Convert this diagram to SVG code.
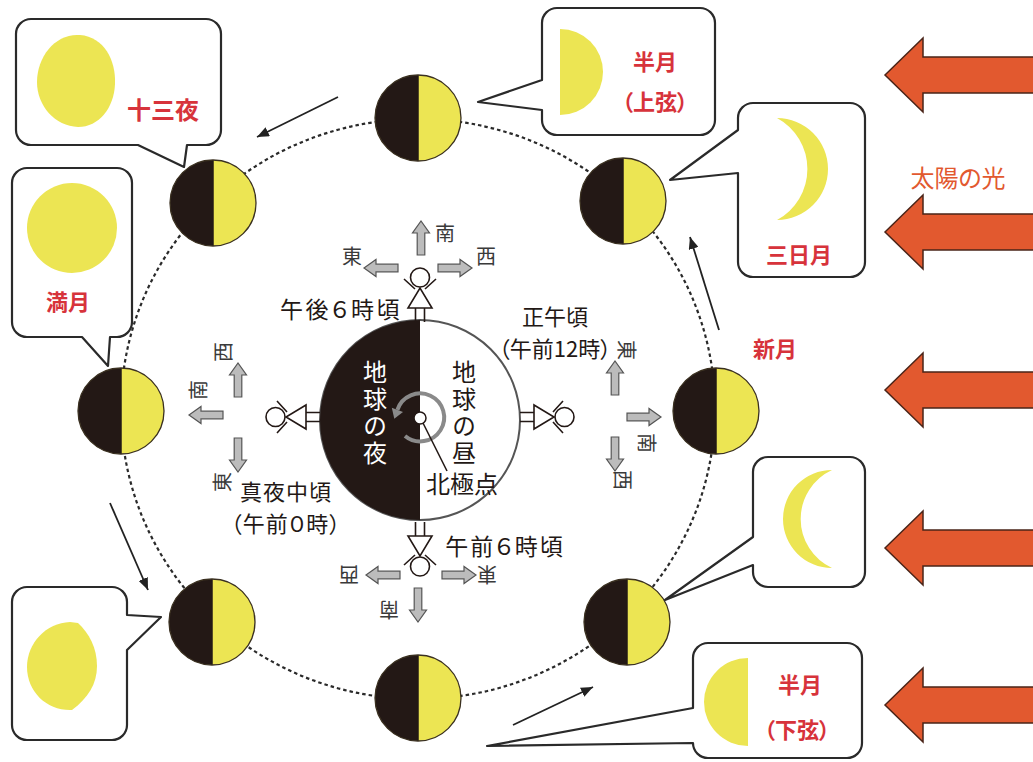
<svg xmlns="http://www.w3.org/2000/svg" width="1033" height="762" viewBox="0 0 1033 762">
<style>
text{font-family:"Noto Sans CJK JP","Noto Sans CJK SC",sans-serif;text-anchor:middle;dominant-baseline:central;font-feature-settings:"palt";}
.lbl{font-size:23px;fill:#231815;}
.two{font-size:22px;}
.dir{font-size:20px;fill:#3a3a3a;}
.red{font-size:22px;fill:#d7333b;font-weight:bold;}
.sun{font-size:24px;fill:#e2592f;}
.vert{writing-mode:vertical-rl;font-size:24px;letter-spacing:3px;}
.bubble{fill:#fff;stroke:#2a2a2a;stroke-width:2.2;stroke-linejoin:round;}
.lit{fill:#ece553;}
.dark{fill:#231815;}
.rim{fill:none;stroke:#3a3020;stroke-width:1.3;}
.orbit{fill:none;stroke:#2a2a2a;stroke-width:2.2;stroke-dasharray:3.5 3;}
.move{stroke:#222;stroke-width:1.8;marker-end:url(#ah);}
.ray{fill:#e2592f;stroke:#4a2418;stroke-width:1.5;}
.garrow{fill:#bcbcbc;stroke:#555;stroke-width:1.2;}
.fig{fill:#fff;stroke:#231815;stroke-width:1.6;}
</style>
<defs>
  <marker id="ah" viewBox="0 0 12 10" refX="12" refY="5" markerWidth="12" markerHeight="10" markerUnits="userSpaceOnUse" orient="auto">
    <path d="M0,0 L12,5 L0,10 Z" fill="#222"/>
  </marker>
  <!-- half-lit moon: dark to the left, sunlit to the right -->
  <g id="moon">
    <path class="dark" d="M0,-43 A43,43 0 0 0 0,43 Z"/>
    <path class="lit" d="M0,-43 A43,43 0 0 1 0,43 Z"/>
    <line x1="0" y1="-43" x2="0" y2="43" stroke="#231815" stroke-width="1.5"/>
    <circle r="43" class="rim"/>
  </g>
  <!-- observer standing on the globe, feet at origin, head up -->
  <g id="kid" class="fig">
    <path d="M-4.5,0 V-14 M4.5,0 V-14" fill="none"/>
    <path d="M-12,-14 H12 L0,-34 Z"/>
    <path d="M-5,-33 L-16,-43 M5,-33 L16,-43" fill="none"/>
    <circle cx="0" cy="-44.5" r="9.5"/>
  </g>
  <!-- grey compass arrow pointing along +x -->
  <path id="ga" class="garrow" d="M0,-3.8 H22 V-8.5 L34,0 L22,8.5 V3.8 H0 Z"/>
  <!-- sunlight arrow pointing left -->
  <path id="ray" class="ray" d="M885,0 L923,-37 V-18 H1040 V18 H923 V37 Z"/>
</defs>

<rect width="1033" height="762" fill="#fff"/>

<!-- sunlight -->
<g id="sunlight">
  <use href="#ray" y="75"/>
  <use href="#ray" y="232"/>
  <use href="#ray" y="390"/>
  <use href="#ray" y="548"/>
  <use href="#ray" y="705"/>
  <text class="sun" x="958" y="176">太陽の光</text>
</g>

<!-- orbit and motion arrows -->
<g id="connectors">
  <ellipse class="orbit" cx="418" cy="409" rx="297" ry="290"/>
  <line class="move" x1="338" y1="97" x2="257" y2="137"/>
  <line class="move" x1="110" y1="503" x2="148" y2="590"/>
  <line class="move" x1="513" y1="725" x2="593" y2="687"/>
  <line class="move" x1="719" y1="330" x2="690" y2="237"/>
</g>

<!-- moons on the orbit -->
<g id="moon-top"><use href="#moon" x="418" y="118"/></g>
<g id="moon-top-right"><use href="#moon" x="623" y="201"/></g>
<g id="moon-right"><use href="#moon" x="716" y="411"/></g>
<g id="moon-bottom-right"><use href="#moon" x="627" y="622"/></g>
<g id="moon-bottom"><use href="#moon" x="418" y="698"/></g>
<g id="moon-bottom-left"><use href="#moon" x="212" y="622"/></g>
<g id="moon-left"><use href="#moon" x="121" y="411"/></g>
<g id="moon-top-left"><use href="#moon" x="213" y="203"/></g>

<g id="label-new-moon"><text class="red" x="775" y="347">新月</text></g>

<!-- speech bubbles with the moon as seen from Earth -->
<g id="bubble-13th-night">
  <path class="bubble" d="M31,19 H206 A15,15 0 0 1 221,34 V130 A15,15 0 0 1 206,145 H187 L184,167 L138,145 H31 A15,15 0 0 1 16,130 V34 A15,15 0 0 1 31,19 Z"/>
  <path class="lit" d="M80,35 C104,37 116,60 115,84 C114,108 99,127 78,127 C55,126 37,106 37,82 C37,56 56,33 80,35 Z"/>
  <text class="red" x="163" y="108" style="font-size:24px">十三夜</text>
</g>

<g id="bubble-full-moon">
  <path class="bubble" d="M27,168 H117 A15,15 0 0 1 132,183 V322 A15,15 0 0 1 117,337 H110 L108,366 L82,337 H27 A15,15 0 0 1 12,322 V183 A15,15 0 0 1 27,168 Z"/>
  <circle class="lit" cx="72" cy="228" r="45"/>
  <text class="red" x="68" y="300">満月</text>
</g>

<g id="bubble-waning-gibbous">
  <path class="bubble" d="M27,587 H112 A15,15 0 0 1 127,602 V615 L161,617 L127,650 V725 A15,15 0 0 1 112,740 H27 A15,15 0 0 1 12,725 V602 A15,15 0 0 1 27,587 Z"/>
  <path class="lit" d="M70,622 C46,623 27,643 27,667 C27,692 47,711 72,710 C88,698 97,684 97,666 C97,648 89,633 78,623 Z"/>
</g>

<g id="bubble-first-quarter">
  <path class="bubble" d="M557,8 H700 A15,15 0 0 1 715,23 V120 A15,15 0 0 1 700,135 H557 A15,15 0 0 1 542,120 V110 L478,102 L542,80 V23 A15,15 0 0 1 557,8 Z"/>
  <path class="lit" d="M560,29 A43,43 0 0 1 560,115 Z"/>
  <text class="red" x="655" y="60">半月<tspan x="655" dy="40">（上弦）</tspan></text>
</g>

<g id="bubble-crescent">
  <path class="bubble" d="M753,103 H850 A15,15 0 0 1 865,118 V262 A15,15 0 0 1 850,277 H753 A15,15 0 0 1 738,262 V173 L670,180 L738,130 V118 A15,15 0 0 1 753,103 Z"/>
  <path class="lit" d="M777,118 A51,51 0 0 1 777,220 A58,58 0 0 0 777,118 Z"/>
  <text class="red" x="799" y="253">三日月</text>
</g>

<g id="bubble-waning-crescent">
  <path class="bubble" d="M768,457 H850 A15,15 0 0 1 865,472 V572 A15,15 0 0 1 850,587 H768 A15,15 0 0 1 753,572 V565 L665,600 L753,537 V472 A15,15 0 0 1 768,457 Z"/>
  <path class="lit" d="M832,470 A49,49 0 0 0 832,568 A54,54 0 0 1 832,470 Z"/>
</g>

<g id="bubble-last-quarter">
  <path class="bubble" d="M708,643 H847 A15,15 0 0 1 862,658 V743 A15,15 0 0 1 847,758 H708 A15,15 0 0 1 693,743 L487,746 L693,708 V658 A15,15 0 0 1 708,643 Z"/>
  <path class="lit" d="M748,658 A44,44 0 0 0 748,746 Z"/>
  <text class="red" x="800" y="683">半月<tspan x="797" dy="45">（下弦）</tspan></text>
</g>

<!-- Earth seen from above the North Pole -->
<g id="earth">
  <circle cx="420" cy="420" r="100" fill="#fff" stroke="#555" stroke-width="2"/>
  <path class="dark" d="M420,320 A100,100 0 0 0 420,520 Z"/>
  <text class="vert" x="375" y="414" fill="#fff">地球の夜</text>
  <text class="vert" x="464" y="414" fill="#231815">地球の昼</text>
  <path d="M405,436 A24,24 0 1 0 397.4,409.8" fill="none" stroke="#8a8a8a" stroke-width="4"/>
  <path d="M391.8,407.8 L403,411.9 L394.3,418.8 Z" fill="#8a8a8a"/>
  <line x1="423" y1="423" x2="447" y2="471" stroke="#231815" stroke-width="1.5"/>
  <circle cx="420" cy="418" r="6" fill="#fff" stroke="#231815" stroke-width="1.5"/>
  <text class="lbl" x="462" y="482" style="font-size:24px">北極点</text>
</g>

<!-- observer at 6 p.m. -->
<g id="observer-evening">
  <use href="#kid" transform="translate(420,322)"/>
  <use href="#ga" transform="translate(421,255) rotate(-90)"/>
  <use href="#ga" transform="translate(398,268) rotate(180)"/>
  <use href="#ga" transform="translate(438,268)"/>
  <text class="dir" x="445" y="232">南</text>
  <text class="dir" x="352" y="255">東</text>
  <text class="dir" x="486" y="255">西</text>
  <text class="lbl" x="341" y="308" style="letter-spacing:2.5px">午後６時頃</text>
</g>

<!-- observer at noon -->
<g id="observer-noon">
  <use href="#kid" transform="translate(520,417) rotate(90)"/>
  <use href="#ga" transform="translate(615,395) rotate(-90)"/>
  <use href="#ga" transform="translate(627,417)"/>
  <use href="#ga" transform="translate(615,437) rotate(90)"/>
  <text class="dir" transform="translate(627,350) rotate(90)">東</text>
  <text class="dir" transform="translate(647,443) rotate(90)">南</text>
  <text class="dir" transform="translate(623,480) rotate(90)">西</text>
  <text class="lbl two" x="555" y="315">正午頃</text>
  <text class="lbl two" x="555" y="347">（午前12時）</text>
</g>

<!-- observer at midnight -->
<g id="observer-midnight">
  <use href="#kid" transform="translate(320,417) rotate(-90)"/>
  <use href="#ga" transform="translate(238,397) rotate(-90)"/>
  <use href="#ga" transform="translate(223,415) rotate(180)"/>
  <use href="#ga" transform="translate(238,438) rotate(90)"/>
  <text class="dir" transform="translate(222,352) rotate(-90)">西</text>
  <text class="dir" transform="translate(197,390) rotate(-90)">南</text>
  <text class="dir" transform="translate(221,482) rotate(-90)">東</text>
  <text class="lbl two" x="286" y="490" style="letter-spacing:1px">真夜中頃</text>
  <text class="lbl two" x="286" y="522" style="letter-spacing:1px">（午前０時）</text>
</g>

<!-- observer at 6 a.m. -->
<g id="observer-morning">
  <use href="#kid" transform="translate(420,522) rotate(180)"/>
  <use href="#ga" transform="translate(418,588) rotate(90)"/>
  <use href="#ga" transform="translate(400,575) rotate(180)"/>
  <use href="#ga" transform="translate(442,575)"/>
  <text class="dir" transform="translate(389,610) rotate(180)">南</text>
  <text class="dir" transform="translate(349,575) rotate(180)">西</text>
  <text class="dir" transform="translate(487,575) rotate(180)">東</text>
  <text class="lbl" x="505" y="545" style="letter-spacing:2px">午前６時頃</text>
</g>
</svg>
